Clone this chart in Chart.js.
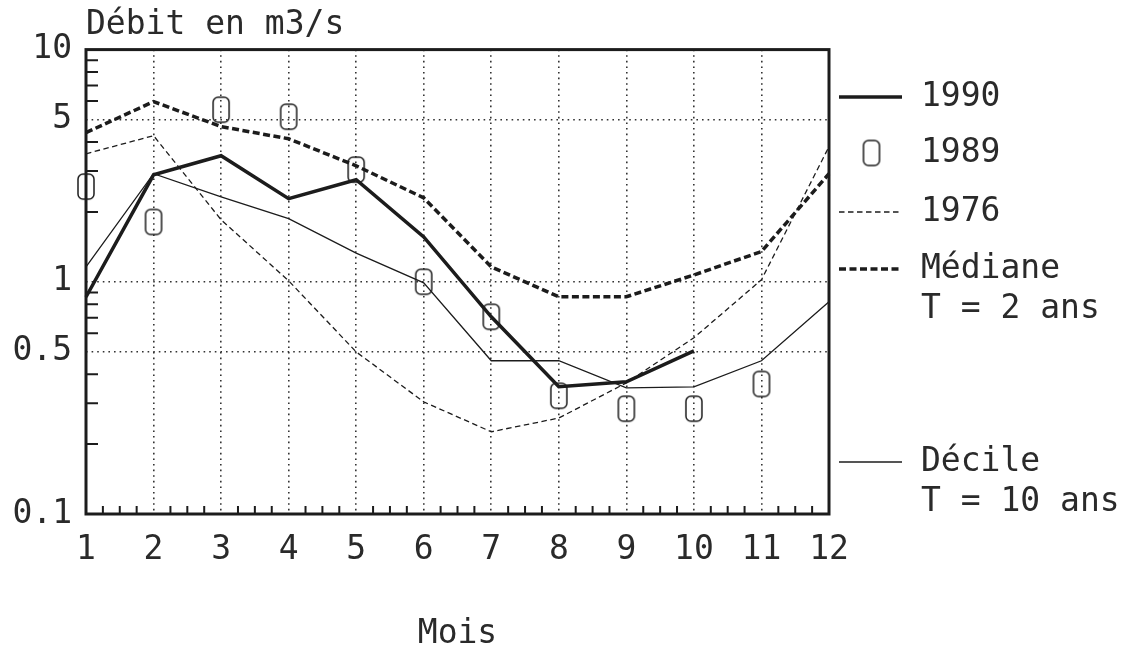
<!DOCTYPE html>
<html><head><meta charset="utf-8">
<script src="https://cdn.jsdelivr.net/npm/chart.js@4/dist/chart.umd.min.js"></script>
<style>html,body{margin:0;padding:0;background:#fff;} #wrap{position:relative;width:1126px;height:653px;}</style>
</head><body><div id="wrap"><canvas id="c"></canvas></div>
<script>
const months = ['1','2','3','4','5','6','7','8','9','10','11','12'];
const q1990 = [0.86, 2.89, 3.49, 2.28, 2.75, 1.56, 0.707, 0.353, 0.371, 0.504, null, null];
const q1989 = [2.57, 1.81, 5.51, 5.14, 3.04, 1.0, 0.707, 0.323, 0.284, 0.284, 0.363, null];
const q1976 = [3.56, 4.26, 1.85, 1.01, 0.499, 0.304, 0.226, 0.259, 0.367, 0.574, 1.02, 3.82];
const qMediane = [4.39, 5.97, 4.66, 4.13, 3.16, 2.30, 1.16, 0.862, 0.862, 1.07, 1.35, 2.92];
const qDecile = [1.16, 2.92, 2.32, 1.87, 1.33, 0.99, 0.457, 0.457, 0.349, 0.353, 0.457, 0.82];
const yTickValues = [0.1, 0.5, 1, 5, 10];
const yTickLabels = ['0.1', '0.5', '1', '5', '10'];
const yGridValues = [0.5, 1, 5];
const yMinorTicks = [0.2, 0.3, 0.4, 0.6, 0.7, 0.8, 0.9, 2, 3, 4, 6, 7, 8, 9];
const seriesLabels = ['1990', '1989', '1976', ['Médiane', 'T = 2 ans'], ['Décile', 'T = 10 ans']];

const FONT = '"DejaVu Sans Mono", monospace';
const INK = '#1c1c1c';
const TEXT = '#2a2a2a';

function makeZeroMarker() {
  const c = document.createElement('canvas');
  c.width = 20; c.height = 29;
  const g = c.getContext('2d');
  g.strokeStyle = INK; g.lineWidth = 1.5;
  g.beginPath();
  g.roundRect(2, 2, 16, 25, 5);
  g.stroke();
  return c;
}
const zeroMarker = makeZeroMarker();

const allYTicks = Array.from(new Set([...yTickValues, ...yMinorTicks, ...yGridValues])).sort((a,b)=>a-b);

const frameAndTicks = {
  id: 'frameAndTicks',
  afterDatasetsDraw(chart) {
    const {ctx, chartArea: a, scales: {x, y}} = chart;
    ctx.save();
    ctx.strokeStyle = INK;
    ctx.lineWidth = 2;
    ctx.setLineDash([]);
    ctx.beginPath();
    yMinorTicks.forEach(v => {
      const py = y.getPixelForValue(v);
      ctx.moveTo(a.left, py); ctx.lineTo(a.left + 12, py);
    });
    for (let i = 0; i < months.length - 1; i++) {
      for (let q = 1; q <= 3; q++) {
        const px = x.getPixelForValue(i + q / 4);
        ctx.moveTo(px, a.bottom); ctx.lineTo(px, a.bottom - 8);
      }
    }
    ctx.stroke();
    ctx.lineWidth = 3;
    ctx.strokeRect(a.left, a.top, a.right - a.left, a.bottom - a.top);
    ctx.restore();
  }
};

const sideLegend = {
  id: 'sideLegend',
  afterDraw(chart) {
    const {ctx, chartArea: a} = chart;
    const rows = [97, 153, 212, 269, 462];
    const x0 = a.right + 10, x1 = a.right + 73, tx = a.right + 92;
    ctx.save();
    chart.data.datasets.forEach((ds, i) => {
      const yy = rows[i];
      if (ds.showLine === false) {
        ctx.drawImage(zeroMarker, (x0 + x1) / 2 - zeroMarker.width / 2 + 1, yy - zeroMarker.height / 2);
      } else {
        ctx.strokeStyle = ds.borderColor;
        ctx.lineWidth = ds.borderWidth;
        ctx.setLineDash(ds.borderDash || []);
        ctx.beginPath(); ctx.moveTo(x0, yy); ctx.lineTo(x1, yy); ctx.stroke();
      }
      ctx.setLineDash([]);
      ctx.fillStyle = TEXT;
      ctx.font = '33px ' + FONT;
      ctx.textBaseline = 'middle';
      ctx.textAlign = 'left';
      const lines = Array.isArray(ds.label) ? ds.label : [ds.label];
      lines.forEach((t, k) => ctx.fillText(t, tx, yy + k * 40));
    });
    ctx.restore();
  }
};

new Chart(document.getElementById('c'), {
  type: 'line',
  data: {
    labels: months,
    datasets: [
      {label: seriesLabels[0], data: q1990, borderColor: INK, borderWidth: 3.5, pointRadius: 0, tension: 0, spanGaps: false},
      {label: seriesLabels[1], data: q1989, showLine: false, pointStyle: zeroMarker, pointRadius: 10, borderColor: INK, clip: false},
      {label: seriesLabels[2], data: q1976, borderColor: INK, borderWidth: 1.3, borderDash: [5.5, 3.5], pointRadius: 0, tension: 0},
      {label: seriesLabels[3], data: qMediane, borderColor: INK, borderWidth: 3.5, borderDash: [7, 3.5], pointRadius: 0, tension: 0},
      {label: seriesLabels[4], data: qDecile, borderColor: INK, borderWidth: 1.3, pointRadius: 0, tension: 0}
    ]
  },
  options: {
    responsive: true,
    maintainAspectRatio: false,
    animation: false,
    events: [],
    layout: {padding: {left: 0, right: 297, top: 0, bottom: 0}},
    plugins: {
      legend: {display: false},
      tooltip: {enabled: false},
      title: {
        display: true, text: 'Débit en m3/s', align: 'start', fullSize: false,
        color: TEXT, font: {family: FONT, size: 33, weight: 'normal', lineHeight: 1.2},
        padding: {top: 6, bottom: 4}
      }
    },
    scales: {
      x: {
        type: 'category',
        offset: false,
        afterFit(s) { s.height = 139; },
        grid: {
          drawTicks: false,
          lineWidth: 1.6,
          color: c => (c.index === 0 || c.index === months.length - 1) ? 'rgba(0,0,0,0)' : '#333',
          borderDash: [1.6, 4]
        },
        border: {display: false, dash: [1.6, 4]},
        ticks: {color: TEXT, padding: 17, maxRotation: 0, autoSkip: false, font: {family: FONT, size: 33, lineHeight: 1.2}},
        title: {display: true, text: 'Mois', color: TEXT, padding: 0, font: {family: FONT, size: 33, lineHeight: 1.1}}
      },
      y: {
        type: 'logarithmic',
        min: 0.1, max: 10,
        afterFit(s) { s.width = 86; },
        afterBuildTicks(s) { s.ticks = allYTicks.map(v => ({value: v})); },
        grid: {
          drawTicks: false,
          lineWidth: 1.6,
          color: c => (c.tick && yGridValues.includes(c.tick.value)) ? '#333' : 'rgba(0,0,0,0)',
          borderDash: [1.6, 4]
        },
        border: {display: false, dash: [1.6, 4]},
        ticks: {
          color: TEXT, padding: 14, autoSkip: false,
          font: {family: FONT, size: 33, lineHeight: 1.2},
          callback: v => { const i = yTickValues.indexOf(v); return i >= 0 ? yTickLabels[i] : ''; }
        }
      }
    }
  },
  plugins: [frameAndTicks, sideLegend]
});
</script></body></html>
